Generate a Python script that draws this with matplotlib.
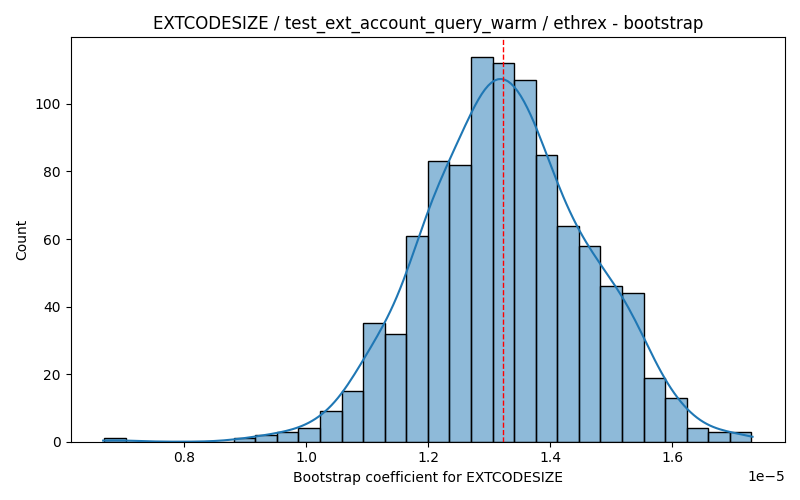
import numpy as np
import matplotlib
matplotlib.use("Agg")
import matplotlib.pyplot as plt
import seaborn as sns

# bootstrap histogram (x in units of 1e-5)
DATA_MIN = 0.669e-5
DATA_MAX = 1.730e-5
NBINS = 30
counts = [1, 0, 0, 0, 0, 0, 1, 2, 3, 4,
          9, 15, 35, 32, 61, 83, 82, 114, 112, 107,
          85, 64, 58, 46, 44, 19, 13, 4, 3, 3]
marker_x = 1.3224e-5

title = "EXTCODESIZE / test_ext_account_query_warm / ethrex - bootstrap"
xlabel = "Bootstrap coefficient for EXTCODESIZE"

edges = np.linspace(DATA_MIN, DATA_MAX, NBINS + 1)
centers = (edges[:-1] + edges[1:]) / 2
samples = np.repeat(centers, counts)

fig, ax = plt.subplots(figsize=(8, 5), dpi=100)
# samples sit on bin centres, so widen the kde a bit and let it reach the outer edges
sns.histplot(x=samples, bins=edges, kde=True, ax=ax, edgecolor="black",
             kde_kws={"bw_adjust": 1.1, "cut": 0.53})
ax.axvline(marker_x, color="red", linestyle="--", linewidth=1)
ax.set_title(title)
ax.set_xlabel(xlabel)
ax.set_ylabel("Count")
fig.tight_layout()
fig.savefig("out.png")
